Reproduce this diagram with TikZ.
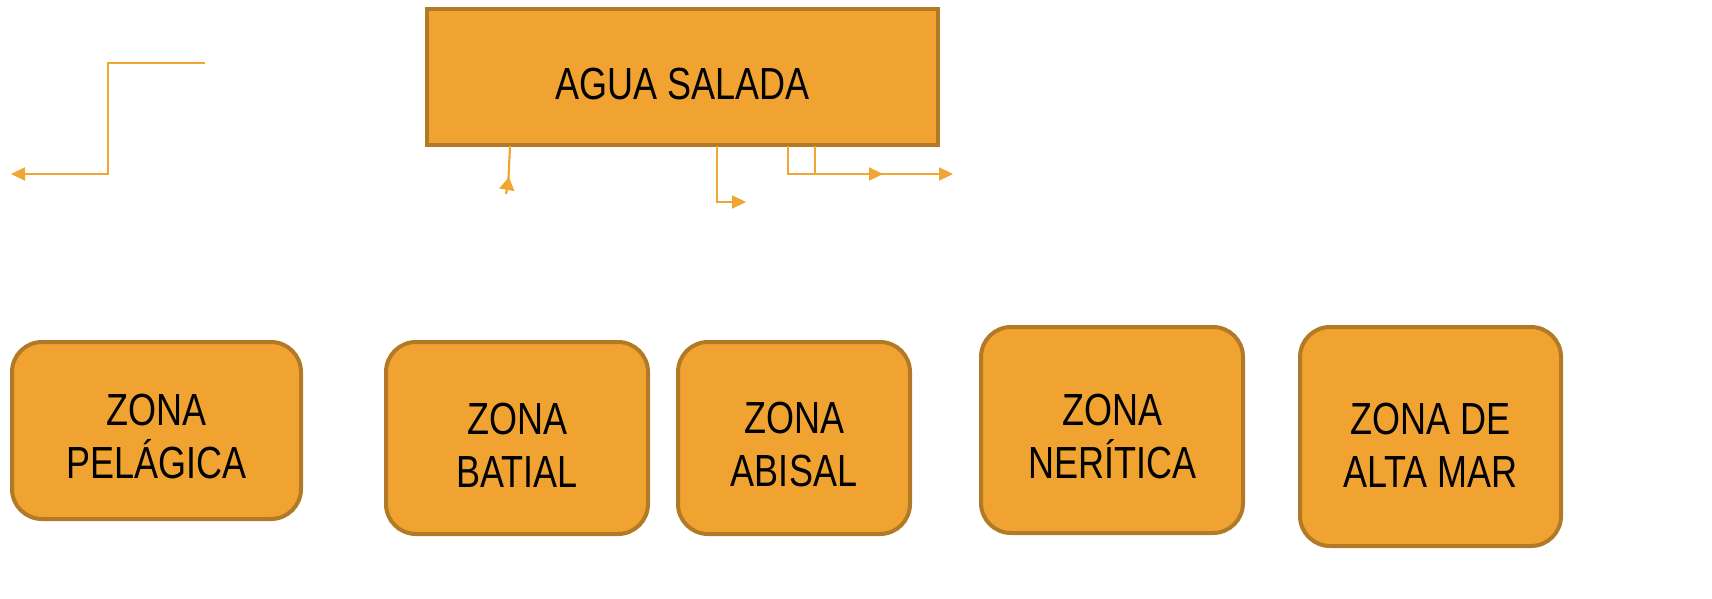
\documentclass[tikz,border=0pt]{standalone}
\usepackage{fontspec}
\usepackage{graphicx}
\setmainfont{Liberation Sans}
\usetikzlibrary{arrows.meta}
\definecolor{boxfill}{RGB}{240,163,48}
\definecolor{boxline}{RGB}{178,121,38}
\definecolor{conn}{RGB}{241,165,50}
\newcommand{\nar}[1]{\scalebox{0.80}[1.0]{#1}}
\tikzset{
  topbox/.style={draw=boxline, fill=boxfill, line width=4pt, inner sep=0pt},
  zonebox/.style={draw=boxline, fill=boxfill, line width=4pt, rounded corners=30pt, inner sep=0pt},
  txt/.style={align=center, font=\fontsize{45}{53}\selectfont, inner sep=0pt, text=black},
  conn/.style={draw=conn, line width=2.2pt},
  arr/.style={conn, -{Triangle[length=14pt,width=13pt]}},
}
\begin{document}
\begin{tikzpicture}[x=1pt,y=-1pt]
\useasboundingbox (0,0) rectangle (1712,599);
% top box
\node[topbox, minimum width=511pt, minimum height=136pt] (agua) at (682.5,77) {};
\node[txt] (aguaT) at (682.5,84) {\nar{AGUA SALADA}};
% bottom boxes
\node[zonebox, minimum width=289pt, minimum height=177pt] (pel) at (156.5,430.5) {};
\node[txt] (pelT) at (156.5,437) {\nar{ZONA}\\\nar{PELÁGICA}};
\node[zonebox, minimum width=262pt, minimum height=192pt] (bat) at (517,438) {};
\node[txt] (batT) at (517,445) {\nar{ZONA}\\\nar{BATIAL}};
\node[zonebox, minimum width=232pt, minimum height=192pt] (abi) at (794,438) {};
\node[txt] (abiT) at (794,445) {\nar{ZONA}\\\nar{ABISAL}};
\node[zonebox, minimum width=262pt, minimum height=206pt] (ner) at (1112,430) {};
\node[txt] (nerT) at (1112,437) {\nar{ZONA}\\\nar{NERÍTICA}};
\node[zonebox, minimum width=261pt, minimum height=219pt] (alt) at (1430.5,436.5) {};
\node[txt] (altT) at (1430.5,445) {\nar{ZONA DE}\\\nar{ALTA MAR}};
% connectors
\coordinate (l0) at (205,63);
\coordinate (l1) at (11,174);
\draw[arr] (l0) -- (108,63) -- (108,174) -- (l1);
\coordinate (b0) at (510,146);
\coordinate (b1) at (508,188);
\coordinate (b2) at (506,194);
\coordinate (b3) at (509,177);
\draw[conn] (b0) -- (b1);
\draw[conn, -{Triangle[length=13pt,width=15pt]}] (b2) -- (b3);
\coordinate (c0) at (717,146);
\coordinate (c1) at (746,202);
\draw[arr] (c0) |- (c1);
\coordinate (d0) at (788,146);
\coordinate (d1) at (883,174);
\draw[arr] (d0) |- (d1);
\coordinate (e0) at (815,146);
\coordinate (e1) at (953,174);
\draw[arr] (e0) |- (e1);
\end{tikzpicture}
\end{document}
